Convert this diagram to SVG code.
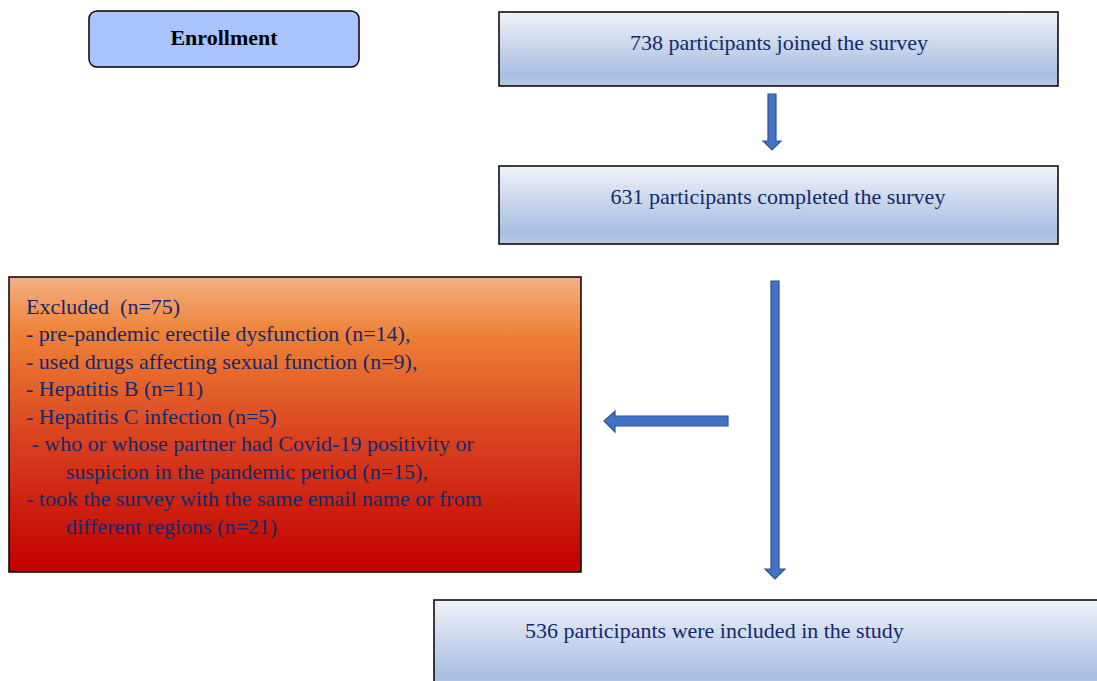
<svg xmlns="http://www.w3.org/2000/svg" width="1097" height="681" viewBox="0 0 1097 681">
<defs>
<linearGradient id="blueGrad" x1="0" y1="0" x2="0" y2="1">
<stop offset="0" stop-color="#f0f3fa"/>
<stop offset="0.5" stop-color="#c6d3ea"/>
<stop offset="0.85" stop-color="#a9bfe2"/>
<stop offset="1" stop-color="#b8c9e8"/>
</linearGradient>
<linearGradient id="redGrad" x1="0" y1="0" x2="0" y2="1">
<stop offset="0" stop-color="#f4b084"/>
<stop offset="0.2" stop-color="#ed8035"/>
<stop offset="0.55" stop-color="#d9411f"/>
<stop offset="1" stop-color="#c00000"/>
</linearGradient>
<style>
.box{stroke:#000;stroke-width:1.5}
.t{font-family:"Liberation Serif","Times New Roman",serif;font-size:22px;fill:#13296b}
.arrow{fill:#4472c4;stroke:#2f528f;stroke-width:1.2}
</style>
</defs>
<g id="enrollment">
<rect x="89" y="11" width="270" height="56" rx="8" ry="8" fill="#a9c4fc" stroke="#000" stroke-width="1.5"/>
<text x="224" y="45" text-anchor="middle" font-family="Liberation Serif, serif" font-size="22" font-weight="bold" fill="#000">Enrollment</text>
</g>
<g id="joined">
<rect class="box" x="499" y="12" width="559" height="74" fill="url(#blueGrad)"/>
<text class="t" x="779" y="50" text-anchor="middle">738 participants joined the survey</text>
</g>
<g id="completed">
<rect class="box" x="499" y="166" width="559" height="78" fill="url(#blueGrad)"/>
<text class="t" x="778" y="204" text-anchor="middle">631 participants completed the survey</text>
</g>
<g id="excluded">
<rect class="box" x="9" y="277" width="572" height="295" fill="url(#redGrad)"/>
<text class="t" x="26" y="314" xml:space="preserve">Excluded  (n=75)</text>
<text class="t" x="26" y="341">- pre-pandemic erectile dysfunction (n=14),</text>
<text class="t" x="26" y="369">- used drugs affecting sexual function (n=9),</text>
<text class="t" x="26" y="396">- Hepatitis B (n=11)</text>
<text class="t" x="26" y="424">- Hepatitis C infection (n=5)</text>
<text class="t" x="26" y="451" xml:space="preserve"> - who or whose partner had Covid-19 positivity or</text>
<text class="t" x="66" y="479">suspicion in the pandemic period (n=15),</text>
<text class="t" x="26" y="506">- took the survey with the same email name or from</text>
<text class="t" x="66" y="534">different regions (n=21)</text>
</g>
<g id="included">
<rect class="box" x="434" y="600" width="670" height="90" fill="url(#blueGrad)"/>
<text class="t" x="525" y="638">536 participants were included in the study</text>
</g>
<g id="connectors">
<path class="arrow" d="M768,94 H776 V141 H781 L772,150 L763,141 H768 Z"/>
<path class="arrow" d="M771,281 H779 V569 H785 L775,579 L765,569 H771 Z"/>
<path class="arrow" d="M728,416 V426 H615 V432 L604,421 L615,411 V416 Z"/>
</g>
</svg>
